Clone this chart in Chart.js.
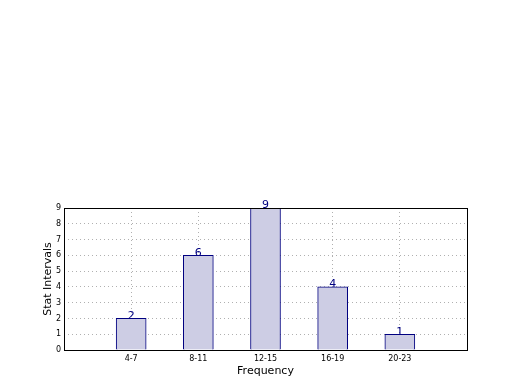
<!DOCTYPE html>
<html>
<head>
<meta charset="utf-8">
<script src="https://cdn.jsdelivr.net/npm/chart.js@4/dist/chart.umd.min.js"></script>
<style>
  html, body { margin: 0; padding: 0; background: #fff; }
  #wrap { width: 520px; height: 390px; position: relative; }
</style>
</head>
<body>
<div id="wrap"><canvas id="chart" width="520" height="390"></canvas></div>
<script>
const categories = ['4-7', '8-11', '12-15', '16-19', '20-23'];
const counts = [2, 6, 9, 4, 1];
const yTicks = [0, 1, 2, 3, 4, 5, 6, 7, 8, 9];

const FONT = 'DejaVu Sans, sans-serif';

// frame round the plot area + value labels above bars
const framePlugin = {
  id: 'frame',
  afterDatasetsDraw(chart) {
    const { ctx, chartArea: a } = chart;
    ctx.save();
    ctx.strokeStyle = '#000';
    ctx.lineWidth = 1;
    ctx.strokeRect(a.left + 0.5, a.top + 0.5, a.right - a.left, a.bottom - a.top);

    const meta = chart.getDatasetMeta(0);
    ctx.fillStyle = '#000080';
    ctx.font = '11px ' + FONT;
    ctx.textAlign = 'center';
    ctx.textBaseline = 'bottom';
    meta.data.forEach((bar, i) => {
      ctx.fillText(String(counts[i]), bar.x, bar.y + 3);
    });
    ctx.restore();
  }
};

new Chart(document.getElementById('chart'), {
  type: 'bar',
  data: {
    datasets: [{
      data: counts.map((v, i) => ({ x: i + 1, y: v })),
      backgroundColor: '#cdcde4',
      borderColor: '#000080',
      borderWidth: 1,
      barThickness: 30
    }]
  },
  options: {
    responsive: false,
    animation: false,
    layout: { padding: { top: 208, right: 53, bottom: 12, left: 42 } },
    plugins: { legend: { display: false }, tooltip: { enabled: false } },
    scales: {
      x: {
        type: 'linear',
        min: 0,
        max: 6,
        offset: false,
        afterBuildTicks: (s) => { s.ticks = categories.map((c, i) => ({ value: i + 1 })); },
        afterFit: (s) => { s.height = 28; },
        ticks: {
          callback: (v) => categories[v - 1] || '',
          font: { family: FONT, size: 8 },
          color: '#000',
          padding: 4,
          maxRotation: 0
        },
        grid: { color: '#b0b0b0', drawTicks: false, offset: false },
        border: { display: false, dash: [1, 3] },
        title: { display: true, text: 'Frequency', font: { family: FONT, size: 11 }, color: '#000', padding: { top: 0, bottom: 0 } }
      },
      y: {
        min: 0,
        max: 9,
        afterBuildTicks: (s) => { s.ticks = yTicks.map(v => ({ value: v })); },
        afterFit: (s) => { s.width = 22; },
        ticks: {
          font: { family: FONT, size: 8 },
          color: '#000',
          padding: 3
        },
        grid: { color: '#b0b0b0', drawTicks: false },
        border: { display: false, dash: [1, 3] },
        title: { display: true, text: 'Stat Intervals', font: { family: FONT, size: 11 }, color: '#000', padding: { top: 0, bottom: 0 } }
      }
    }
  },
  plugins: [framePlugin]
});
</script>
</body>
</html>
